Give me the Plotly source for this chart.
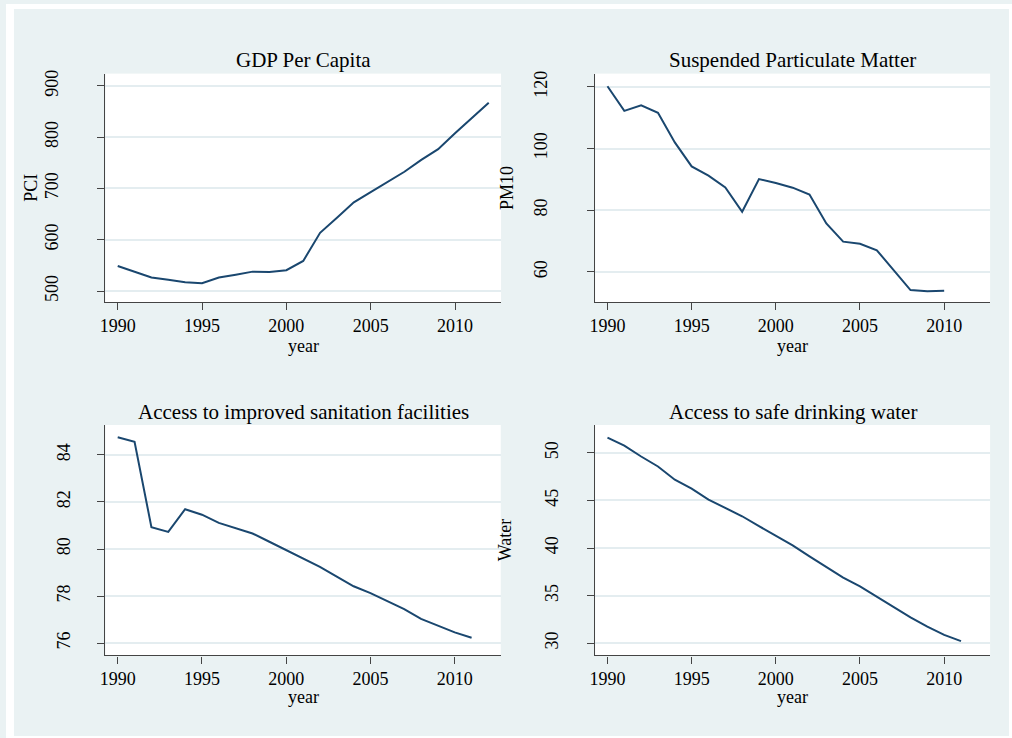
import plotly.graph_objects as go

W, H = 1012, 738

years_gdp = list(range(1990, 2013))
pci = [549, 537.5, 526.5, 522, 517.4, 515.5, 526.5, 532, 538, 537.5, 540.7, 558.8,
       613.7, 642.8, 673, 693, 712, 732.6, 755.8, 776.5, 807.5, 837.9, 867]

years_pm = list(range(1990, 2011))
pm10 = [120.2, 112.2, 114, 111.6, 102, 94.2, 91.2, 87.4, 79.5, 90.1, 88.8, 87.3,
        85.1, 75.7, 69.8, 69.1, 67, 60.5, 54.1, 53.7, 53.9]

years_san = list(range(1990, 2012))
sanitation = [84.75, 84.56, 80.93, 80.73, 81.69, 81.46, 81.11, 80.90, 80.66, 80.31,
              79.96, 79.59, 79.24, 78.83, 78.42, 78.13, 77.80, 77.45, 77.03, 76.73,
              76.46, 76.23]

years_water = list(range(1990, 2012))
water = [51.6, 50.77, 49.62, 48.57, 47.18, 46.24, 45.09, 44.22, 43.34, 42.30, 41.25,
         40.28, 39.13, 38.01, 36.90, 35.96, 34.88, 33.83, 32.72, 31.74, 30.87, 30.21]

titles = ["GDP Per Capita", "Suspended Particulate Matter",
          "Access to improved sanitation facilities", "Access to safe drinking water"]
ytitles = ["PCI", "PM10", "", "Water"]
xticks = [1990, 1995, 2000, 2005, 2010]
yticks = [[500, 600, 700, 800, 900], [60, 80, 100, 120], [76, 78, 80, 82, 84],
          [30, 35, 40, 45, 50]]

FONT = "Liberation Serif"
LINE = "#1a476f"
BG = "#eaf2f3"
AX = "#444444"

# pixel layout of the four panels: (left, right, top, bottom)
boxes = [(100, 498, 70, 300), (592.7, 990, 70, 300),
         (100, 497.7, 423.3, 655), (592.7, 990, 423.3, 655)]
yranges = [[478.1, 923.8], [50.1, 124.3], [75.48, 85.27], [28.71, 52.93]]
xrange_ = [1989.27, 2012.73]
standoffs = [32, 33, 20, 22]
ytitle_x = [25, 504, None, 502]
year_offset = [44, 44, 42, 42]

series = [(years_gdp, pci), (years_pm, pm10), (years_san, sanitation), (years_water, water)]

fig = go.Figure()
for i, (xs, ys) in enumerate(series):
    n = "" if i == 0 else str(i + 1)
    fig.add_trace(go.Scatter(x=xs, y=ys, mode="lines", line=dict(color=LINE, width=2),
                             xaxis="x" + n, yaxis="y" + n, showlegend=False))

layout = dict(width=W, height=H, margin=dict(l=0, r=0, t=0, b=0),
              paper_bgcolor=BG, plot_bgcolor="white",
              font=dict(family=FONT, color="black", size=18), showlegend=False)

annotations = []
for i, (l, r, t, b) in enumerate(boxes):
    n = "" if i == 0 else str(i + 1)
    layout["xaxis" + n] = dict(domain=[l / W, r / W], range=xrange_, anchor="y" + n,
                               tickvals=xticks, ticks="outside", ticklen=7, tickwidth=1.2,
                               tickcolor=AX, showline=True, linecolor=AX, linewidth=1.2,
                               showgrid=False, zeroline=False,
                               tickfont=dict(family=FONT, size=18, color="black"))
    layout["yaxis" + n] = dict(domain=[(H - b) / H, (H - t) / H], range=yranges[i],
                               anchor="x" + n, tickvals=yticks[i], tickangle=-90,
                               ticks="outside", ticklen=7, tickwidth=1.2, tickcolor=AX,
                               showline=True, linecolor=AX, linewidth=1.2,
                               showgrid=True, gridcolor="#e4edf0", gridwidth=1.5,
                               zeroline=False, ticklabelstandoff=standoffs[i],
                               tickfont=dict(family=FONT, size=18, color="black"))
    cx = (l + r) / 2
    annotations.append(dict(text=titles[i], x=cx / W, y=(H - (t - 13.5)) / H,
                            xref="paper", yref="paper", showarrow=False,
                            xanchor="center", yanchor="middle",
                            font=dict(family=FONT, size=21, color="black")))
    annotations.append(dict(text="year", x=cx / W, y=(H - (b + year_offset[i])) / H,
                            xref="paper", yref="paper", showarrow=False,
                            xanchor="center", yanchor="middle",
                            font=dict(family=FONT, size=18, color="black")))
    if ytitles[i]:
        annotations.append(dict(text=ytitles[i], x=ytitle_x[i] / W,
                                y=(H - (t + b) / 2) / H,
                                xref="paper", yref="paper", showarrow=False,
                                textangle=-90, xanchor="center", yanchor="middle",
                                font=dict(family=FONT, size=18, color="black")))
layout["annotations"] = annotations

# thin white border around the grey graph region
border = [(0, 0, 8, H), (0, 0, W, 5), (1009, 0, W, H), (0, 736, W, H)]
layout["shapes"] = [dict(type="rect", xref="paper", yref="paper",
                         x0=x0 / W, x1=x1 / W, y0=(H - y1) / H, y1=(H - y0) / H,
                         fillcolor="white", line=dict(width=0), layer="below")
                    for (x0, y0, x1, y1) in border]

fig.update_layout(**layout)
fig.write_html("out.html", config={"displayModeBar": False},
               post_script="document.body.style.margin='0';"
                           "document.body.style.overflow='hidden';")
